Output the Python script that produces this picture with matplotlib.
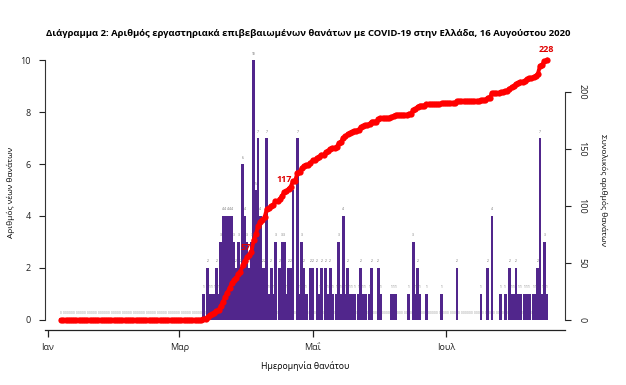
import numpy as np
import pandas as pd
import matplotlib
matplotlib.use("Agg")
import matplotlib.pyplot as plt

plt.rcParams['font.family'] = ['Open Sans', 'DejaVu Sans']

# daily deaths by date of death, 12 Mar - 16 Aug 2020
deaths = [1, 0, 2, 1, 1, 1, 2, 1, 3, 4,
          4, 4, 4, 4, 3, 2, 3, 2, 6, 4,
          3, 2, 3, 10, 5, 7, 4, 2, 2, 7,
          1, 2, 1, 3, 0, 2, 3, 3, 1, 2,
          2, 5, 0, 7, 1, 3, 2, 1, 0, 2,
          2, 0, 2, 1, 2, 0, 2, 1, 2, 1,
          0, 1, 3, 1, 4, 1, 2, 1, 1, 1,
          0, 1, 2, 1, 1, 0, 1, 2, 0, 0,
          2, 1, 0, 0, 0, 0, 1, 1, 1, 0,
          0, 0, 0, 0, 1, 0, 3, 1, 2, 1,
          0, 0, 1, 0, 0, 0, 0, 0, 0, 1,
          0, 0, 0, 0, 0, 0, 2, 0, 0, 0,
          0, 0, 0, 0, 0, 0, 0, 1, 0, 0,
          2, 0, 4, 0, 0, 0, 1, 0, 1, 0,
          2, 1, 1, 2, 1, 1, 0, 1, 1, 1,
          0, 1, 1, 2, 7, 1, 3, 1]
start = "2020-01-07"
first_death = "2020-03-12"
end = "2020-08-16"
marked_dates = ["2020-04-02", "2020-04-21"]   # red labels on the cumulative curve

tick_dates = ["2020-01-01", "2020-03-01", "2020-05-01", "2020-07-01"]
tick_labels = ["Ιαν", "Μαρ", "Μαΐ", "Ιουλ"]

dates = pd.date_range(start, end)
daily = pd.Series(0, index=dates)
daily[first_death:end] = deaths
cum = daily.cumsum()

purple = "#51268c"

fig = plt.figure(figsize=(6.26, 3.85), dpi=100)
ax = fig.add_axes([45 / 626, 55 / 385, 520 / 626, 280 / 385])

ax.bar(daily.index, daily.values, width=1.3, color=purple, linewidth=0, zorder=2)

# tiny count labels as in the original
for d, v in daily.items():
    if v == 0:
        ax.text(d, 0.27, "0", fontsize=2.3, color="#999999", ha="center", va="center", zorder=1)
    else:
        ax.text(d, v + 0.25, str(v), fontsize=2.3, color="#666666", ha="center", va="center", zorder=3)

x0 = pd.Timestamp("2020-01-01")
ax.set_xlim(x0 - pd.Timedelta(days=1.4), x0 + pd.Timedelta(days=236.4))
ax.set_ylim(-0.4, 10.4)
ax.set_xticks(pd.to_datetime(tick_dates))
ax.set_xticklabels(tick_labels)
ax.set_yticks([0, 2, 4, 6, 8, 10])

for s in ["top", "right"]:
    ax.spines[s].set_visible(False)
ax.spines["left"].set_bounds(0, 10)
ax.spines["left"].set_color("#333333")
ax.spines["bottom"].set_color("#222222")
ax.spines["left"].set_linewidth(0.8)
ax.spines["bottom"].set_linewidth(0.9)
ax.tick_params(axis="y", length=4, width=0.8, labelsize=6.5, pad=6, colors="#222222")
ax.tick_params(axis="x", length=5, width=0.9, labelsize=6.5, pad=4, colors="#222222")

ax2 = ax.twinx()
ax2.plot(cum.index, cum.values, color="red", lw=2.8, marker="o", ms=4.5,
         markeredgewidth=0, zorder=5)
ax2.set_ylim(-8.8, 236.8)
ax2.set_yticks([0, 50, 100, 150, 200])
for s in ["top", "left", "bottom"]:
    ax2.spines[s].set_visible(False)
ax2.spines["right"].set_bounds(0, 200)
ax2.spines["right"].set_color("#333333")
ax2.spines["right"].set_linewidth(0.8)
ax2.tick_params(axis="y", length=4, width=0.8, labelsize=6.5, pad=5, colors="#222222")
for lab in ax2.get_yticklabels():
    lab.set_rotation(-90)
    lab.set_va("center")

for md in marked_dates:
    t = pd.Timestamp(md)
    ax2.annotate(str(cum[t]), (t, cum[t]), xytext=(1, 2), textcoords="offset points",
                 ha="right", va="bottom", color="#e00000", fontsize=6.5, fontweight="bold")
ax2.annotate(str(cum.iloc[-1]), (cum.index[-1], cum.iloc[-1]), xytext=(0, 4),
             textcoords="offset points", ha="center", va="bottom", color="#e00000",
             fontsize=6.5, fontweight="bold")

fig.text(308 / 626, 1 - 33 / 385,
         "Διάγραμμα 2: Αριθμός εργαστηριακά επιβεβαιωμένων θανάτων με COVID-19 στην Ελλάδα, 16 Αυγούστου 2020",
         ha="center", va="center", fontsize=6.8, fontweight="bold")
fig.text(11 / 626, 1 - 192 / 385, "Αριθμός νέων θανάτων", rotation=90,
         ha="center", va="center", fontsize=6)
fig.text(603 / 626, 1 - 190 / 385, "Συνολικός αριθμός θανάτων", rotation=-90,
         ha="center", va="center", fontsize=6)
fig.text(305 / 626, 1 - 366 / 385, "Ημερομηνία θανάτου", ha="center", va="center", fontsize=6.3)

fig.savefig("out.png", dpi=100)
